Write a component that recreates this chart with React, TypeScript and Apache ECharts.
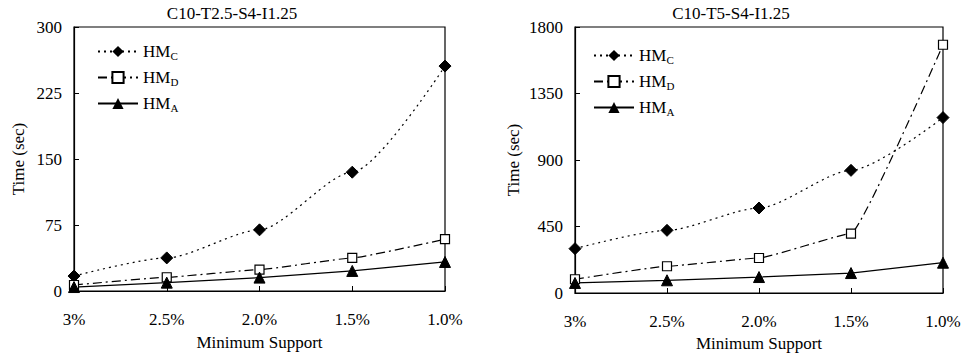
import React, { useEffect, useRef } from "react";
import * as echarts from "echarts";

const categories = ["3%", "2.5%", "2.0%", "1.5%", "1.0%"];
const leftTitle = "C10-T2.5-S4-I1.25";
const rightTitle = "C10-T5-S4-I1.25";
const seriesNames = ["HMC", "HMD", "HMA"];
const leftHMC = [17, 37.6, 69.5, 135, 255.6];
const leftHMD = [6.8, 15.6, 24.3, 37.6, 58.9];
const leftHMA = [4.5, 9.5, 15.2, 22.8, 33];
const rightHMC = [300, 424, 575, 830, 1187];
const rightHMD = [93, 181, 237, 402, 1680];
const rightHMA = [68, 86, 108, 135, 205];
const leftYMax = 300;
const leftYInterval = 75;
const rightYMax = 1800;
const rightYInterval = 450;

const FONT = "Liberation Serif";

export default function App() {
  const ref = useRef<HTMLDivElement>(null);
  useEffect(() => {
    if (!ref.current) return;
    const chart = echarts.init(ref.current, undefined, { renderer: "svg" });
    const styles: Record<string, any> = {
      HMC: { symbol: "diamond", symbolSize: 12, itemStyle: { color: "#000", borderColor: "#000" }, lineStyle: { color: "#000", width: 1.2, type: [2, 4] }, smooth: 0.25 },
      HMD: { symbol: "rect", symbolSize: 9, itemStyle: { color: "#fff", borderColor: "#000", borderWidth: 1.2 }, lineStyle: { color: "#000", width: 1.2, type: [9, 4, 2, 4] }, smooth: 0.1 },
      HMA: { symbol: "triangle", symbolSize: 11, itemStyle: { color: "#000", borderColor: "#000" }, lineStyle: { color: "#000", width: 1.2, type: "solid" }, smooth: false },
    };
    const mk = (name: string, data: number[], idx: number) => ({
      type: "line",
      name,
      xAxisIndex: idx,
      yAxisIndex: idx,
      data,
      showSymbol: true,
      smoothMonotone: "x",
      ...styles[name],
    });
    const xAxis = (idx: number, gap: number) => ({
      type: "category",
      gridIndex: idx,
      data: categories,
      boundaryGap: false,
      name: "Minimum Support",
      nameLocation: "middle",
      nameGap: gap,
      nameTextStyle: { fontFamily: FONT, fontSize: 17, color: "#000" },
      axisLine: { lineStyle: { color: "#000", width: 1.2 } },
      axisTick: { inside: true, length: 5, lineStyle: { color: "#000" } },
      axisLabel: { fontFamily: FONT, fontSize: 17, color: "#000", margin: 20 },
      splitLine: { show: false },
    });
    const yAxis = (idx: number, max: number, interval: number, gap: number) => ({
      type: "value",
      gridIndex: idx,
      min: 0,
      max,
      interval,
      name: "Time (sec)",
      nameLocation: "middle",
      nameGap: gap,
      nameTextStyle: { fontFamily: FONT, fontSize: 17, color: "#000" },
      axisLine: { show: true, lineStyle: { color: "#000", width: 1.2 } },
      axisTick: { show: true, inside: true, length: 5, lineStyle: { color: "#000" } },
      axisLabel: { fontFamily: FONT, fontSize: 17, color: "#000", margin: 12, formatter: (v: number) => String(v) },
      splitLine: { show: false },
    });
    const legend = (left: number, top: number) => ({
      orient: "vertical",
      left,
      top,
      data: seriesNames,
      itemWidth: 40,
      itemHeight: 14,
      itemGap: 8,
      formatter: (n: string) => `{a|HM}{b|${n.slice(2)}}`,
      textStyle: {
        fontFamily: FONT,
        color: "#000",
        rich: {
          a: { fontFamily: FONT, fontSize: 17, lineHeight: 19, color: "#000" },
          b: { fontFamily: FONT, fontSize: 11, lineHeight: 11, verticalAlign: "bottom", color: "#000" },
        },
      },
    });
    chart.setOption({
      animation: false,
      backgroundColor: "#fff",
      textStyle: { fontFamily: FONT, color: "#000" },
      grid: [
        { left: 74, right: 522, top: 27, bottom: 66, outerBoundsMode: "none", containLabel: false, show: true, borderColor: "#000", borderWidth: 1.2, backgroundColor: "transparent" },
        { left: 575, right: 24, top: 27, bottom: 64, outerBoundsMode: "none", containLabel: false, show: true, borderColor: "#000", borderWidth: 1.2, backgroundColor: "transparent" },
      ],
      graphic: [
        { type: "text", x: 232, y: 13, style: { text: leftTitle, font: `17px ${FONT}`, fill: "#000", textAlign: "center", textVerticalAlign: "middle" } },
        { type: "text", x: 731, y: 13, style: { text: rightTitle, font: `17px ${FONT}`, fill: "#000", textAlign: "center", textVerticalAlign: "middle" } },
      ],
      legend: [legend(92, 38), legend(588, 42)],
      xAxis: [xAxis(0, 43), xAxis(1, 40)],
      yAxis: [yAxis(0, leftYMax, leftYInterval, 47), yAxis(1, rightYMax, rightYInterval, 53)],
      series: [
        mk("HMC", leftHMC, 0),
        mk("HMD", leftHMD, 0),
        mk("HMA", leftHMA, 0),
        mk("HMC", rightHMC, 1),
        mk("HMD", rightHMD, 1),
        mk("HMA", rightHMA, 1),
      ],
    });
    return () => chart.dispose();
  }, []);
  return <div ref={ref} style={{ position: "absolute", left: 0, top: 0, width: 967, height: 357 }} />;
}
